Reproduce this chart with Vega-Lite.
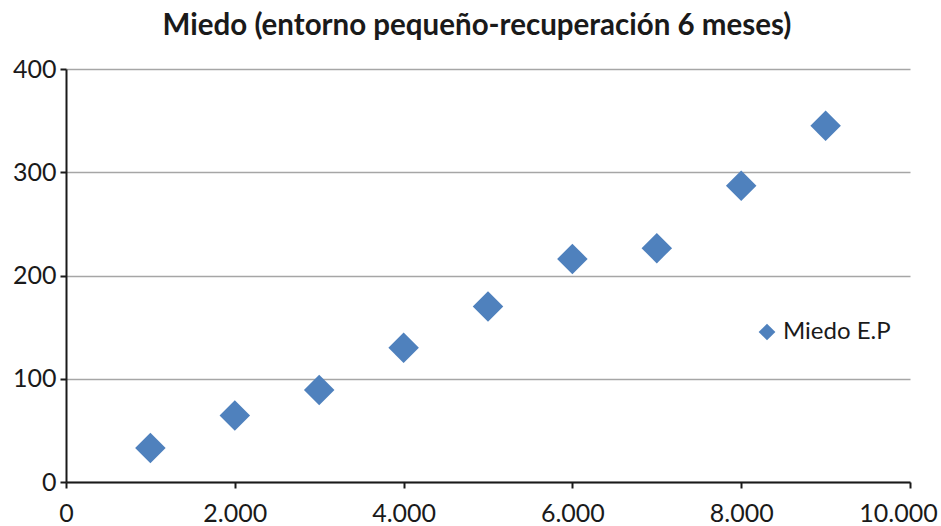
{
  "$schema": "https://vega.github.io/schema/vega-lite/v6.json",
  "autosize": "none",
  "width": 844,
  "height": 413,
  "padding": {"left": 66, "top": 69, "right": 31, "bottom": 44},
  "background": "white",
  "title": {
    "text": "Miedo (entorno pequeño-recuperación 6 meses)",
    "font": "Lato",
    "fontSize": 29.5,
    "fontWeight": "bold",
    "color": "#1a1a1a",
    "anchor": "middle",
    "dx": -11,
    "baseline": "alphabetic",
    "offset": -7
  },
  "config": {
    "view": {"stroke": null},
    "font": "Lato"
  },
  "data": {
    "values": [
      {"x": 1000, "y": 33, "serie": "Miedo E.P"},
      {"x": 2000, "y": 64.5, "serie": "Miedo E.P"},
      {"x": 3000, "y": 89, "serie": "Miedo E.P"},
      {"x": 4000, "y": 130, "serie": "Miedo E.P"},
      {"x": 5000, "y": 170, "serie": "Miedo E.P"},
      {"x": 6000, "y": 216, "serie": "Miedo E.P"},
      {"x": 7000, "y": 226.5, "serie": "Miedo E.P"},
      {"x": 8000, "y": 287, "serie": "Miedo E.P"},
      {"x": 9000, "y": 345, "serie": "Miedo E.P"}
    ]
  },
  "mark": {"type": "point", "shape": "diamond", "filled": true, "size": 930, "opacity": 1},
  "encoding": {
    "x": {
      "field": "x",
      "type": "quantitative",
      "scale": {"domain": [0, 10000], "nice": false},
      "axis": {
        "title": null,
        "values": [0, 2000, 4000, 6000, 8000, 10000],
        "labelExpr": "replace(format(datum.value, ','), ',', '.')",
        "grid": false,
        "domainColor": "#1a1a1a",
        "domainWidth": 2,
        "tickColor": "#1a1a1a",
        "tickWidth": 2,
        "tickSize": 6,
        "labelFontSize": 25,
        "labelColor": "#1a1a1a",
        "labelPadding": 13,
        "labelFlush": false,
        "labelOverlap": false,
        "labelOffset": {"condition": {"test": "datum.value === 10000", "value": -12}, "value": 0}
      }
    },
    "y": {
      "field": "y",
      "type": "quantitative",
      "scale": {"domain": [0, 400], "nice": false},
      "axis": {
        "title": null,
        "values": [0, 100, 200, 300, 400],
        "grid": true,
        "gridColor": "#a6a6a6",
        "gridWidth": 1.5,
        "domainColor": "#1a1a1a",
        "domainWidth": 2,
        "tickColor": "#1a1a1a",
        "tickWidth": 2,
        "tickSize": 6,
        "labelFontSize": 25,
        "labelColor": "#1a1a1a",
        "labelPadding": 4,
        "labelBaseline": "middle"
      }
    },
    "color": {
      "field": "serie",
      "type": "nominal",
      "scale": {"range": ["#4f81bd"]},
      "legend": {
        "title": null,
        "orient": "none",
        "legendX": 689,
        "legendY": 251,
        "symbolType": "diamond",
        "symbolSize": 280,
        "symbolOpacity": 1,
        "labelFontSize": 24,
        "labelColor": "#1a1a1a",
        "labelOffset": 4
      }
    }
  }
}
